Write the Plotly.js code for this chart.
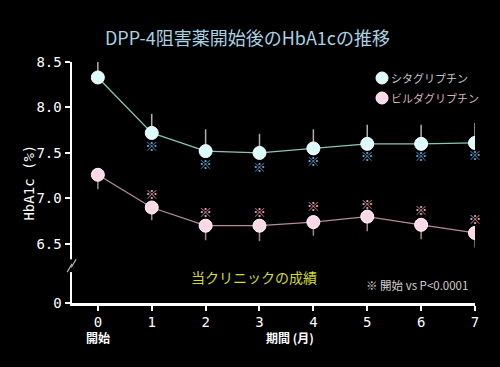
<!DOCTYPE html>
<html><head><meta charset="utf-8">
<script src="https://cdn.plot.ly/plotly-3.0.1.min.js"></script>
<style>html,body{margin:0;padding:0;background:#000;}#chart{width:500px;height:367px;}</style>
</head><body><div id="chart"></div>
<script>
const months = [0,1,2,3,4,5,6,7];
const monthLabels = ["0","1","2","3","4","5","6","7"];
const sitaName = "シタグリプチン";
const vildaName = "ビルダグリプチン";
const sitaMean = [8.33,7.72,7.52,7.50,7.55,7.60,7.60,7.61];
const sitaErrUp = [0.25,0.21,0.24,0.21,0.21,0.21,0.21,0.22];
const vildaMean = [7.26,6.90,6.70,6.70,6.74,6.80,6.71,6.62];
const vildaErrDown = [0.16,0.14,0.16,0.17,0.15,0.16,0.16,0.16];
const sigMonths = [1,2,3,4,5,6,7];
const sitaSigY = [7.56,7.36,7.33,7.39,7.45,7.45,7.46];
const vildaSigY = [7.03,6.83,6.83,6.90,6.92,6.85,6.75];
const yTickVals = [5.85,6.5,7.0,7.5,8.0,8.5];
const yTickText = ["0","6.5","7.0","7.5","8.0","8.5"];

const CJK = '"Noto Sans CJK JP", "DejaVu Sans", sans-serif';
const MONO = '"DejaVu Sans Mono", monospace';
const zeros = months.map(()=>0);

const sitaFill = '#dcfcfc', vildaFill = '#ffd8e8';

const traces = [
  {x: months, y: sitaMean, mode:'lines+markers', showlegend:false,
   line:{color:'#8cc4b4', width:1.3},
   marker:{size:13, color:sitaFill, line:{color:'#ffffff', width:1}},
   error_y:{type:'data', symmetric:false, array:sitaErrUp, arrayminus:zeros, color:'#b0b0b0', thickness:1.5, width:0}},
  {x: months, y: vildaMean, mode:'lines+markers', showlegend:false,
   line:{color:'#b48c94', width:1.3},
   marker:{size:13, color:vildaFill, line:{color:'#ffffff', width:1}},
   error_y:{type:'data', symmetric:false, array:zeros, arrayminus:vildaErrDown, color:'#a8868e', thickness:1.5, width:0}},
  {x: sigMonths, y: sitaSigY, mode:'text', text: sigMonths.map(()=>'※'), showlegend:false, cliponaxis:false,
   textfont:{family:CJK, size:13, color:'#6aa8d8'}, hoverinfo:'skip'},
  {x: sigMonths, y: vildaSigY, mode:'text', text: sigMonths.map(()=>'※'), showlegend:false, cliponaxis:false,
   textfont:{family:CJK, size:13, color:'#e0aab4'}, hoverinfo:'skip'}
];

// legend swatches (paper coordinates)
const lgX = (382-72)/403, rx = 6/403, ry = 6/241;
const lgY1 = (303-78)/241, lgY2 = (303-98)/241;
const txX = (389-72)/403;

const layout = {
  width:500, height:367,
  paper_bgcolor:'#000', plot_bgcolor:'#000',
  margin:{l:72, r:25, t:62, b:64},
  title:{text:'DPP-4阻害薬開始後のHbA1cの推移', x:0.495, xanchor:'center', y:0.895, yanchor:'middle',
         font:{family:CJK, size:18, color:'#a8d2e2'}},
  xaxis:{range:[-0.48,7], tickvals:months, ticktext:monthLabels, showgrid:false, zeroline:false,
         showline:true, linecolor:'#ffffff', linewidth:2.5, ticks:'outside', ticklen:5, tickwidth:2, tickcolor:'#ffffff',
         tickfont:{family:MONO, size:14, color:'#ffffff'}},
  yaxis:{range:[5.85,8.5], tickvals:yTickVals, ticktext:yTickText, showgrid:false, zeroline:false,
         showline:true, linecolor:'#ffffff', linewidth:2.5, ticks:'outside', ticklen:5, tickwidth:2, tickcolor:'#ffffff',
         tickfont:{family:MONO, size:14, color:'#ffffff'}},
  showlegend:false,
  shapes:[
    {type:'rect', xref:'paper', yref:'y', x0:-0.012, x1:0.012, y0:6.19, y1:6.33, fillcolor:'#000', line:{width:0}, layer:'above'},
    {type:'line', xref:'paper', yref:'y', x0:-0.012, x1:0.0, y0:6.19, y1:6.28, line:{color:'#b0b0b0', width:1.2}, layer:'above'},
    {type:'line', xref:'paper', yref:'y', x0:-0.002, x1:0.010, y0:6.24, y1:6.33, line:{color:'#b0b0b0', width:1.2}, layer:'above'},
    {type:'circle', xref:'paper', yref:'paper', x0:lgX-rx, x1:lgX+rx, y0:lgY1-ry, y1:lgY1+ry, fillcolor:sitaFill, line:{color:'#ffffff', width:1}},
    {type:'circle', xref:'paper', yref:'paper', x0:lgX-rx, x1:lgX+rx, y0:lgY2-ry, y1:lgY2+ry, fillcolor:vildaFill, line:{color:'#ffffff', width:1}}
  ],
  annotations:[
    {text:sitaName, xref:'paper', yref:'paper', x:txX, y:lgY1, showarrow:false, xanchor:'left', yanchor:'middle',
     font:{family:CJK, size:11, color:'#c8c8c8'}},
    {text:vildaName, xref:'paper', yref:'paper', x:txX, y:lgY2, showarrow:false, xanchor:'left', yanchor:'middle',
     font:{family:CJK, size:11, color:'#d8b4bc'}},
    {text:'HbA1c (%)', xref:'paper', yref:'paper', x:-0.109, y:0.5, textangle:-90, showarrow:false,
     xanchor:'center', yanchor:'middle', font:{family:MONO, size:14, color:'#ffffff'}},
    {text:'<b>開始</b>', xref:'x', yref:'paper', x:0, y:-0.142, showarrow:false, xanchor:'center', yanchor:'middle',
     font:{family:CJK, size:12, color:'#ffffff'}},
    {text:'<b>期間 (月)</b>', xref:'x', yref:'paper', x:3.57, y:-0.142, showarrow:false, xanchor:'center', yanchor:'middle',
     font:{family:CJK, size:12, color:'#ffffff'}},
    {text:'当クリニックの成績', xref:'paper', yref:'paper', x:(254-72)/403, y:(303-277)/241, showarrow:false,
     xanchor:'center', yanchor:'middle', font:{family:CJK, size:14, color:'#d4dc28'}},
    {text:'※ 開始 vs P<0.0001', xref:'paper', yref:'paper', x:(417-72)/403, y:(303-285)/241, showarrow:false,
     xanchor:'center', yanchor:'middle', font:{family:CJK, size:11.5, color:'#d0d0d0'}}
  ]
};

Plotly.newPlot('chart', traces, layout, {displayModeBar:false, staticPlot:true});
</script>
</body></html>
